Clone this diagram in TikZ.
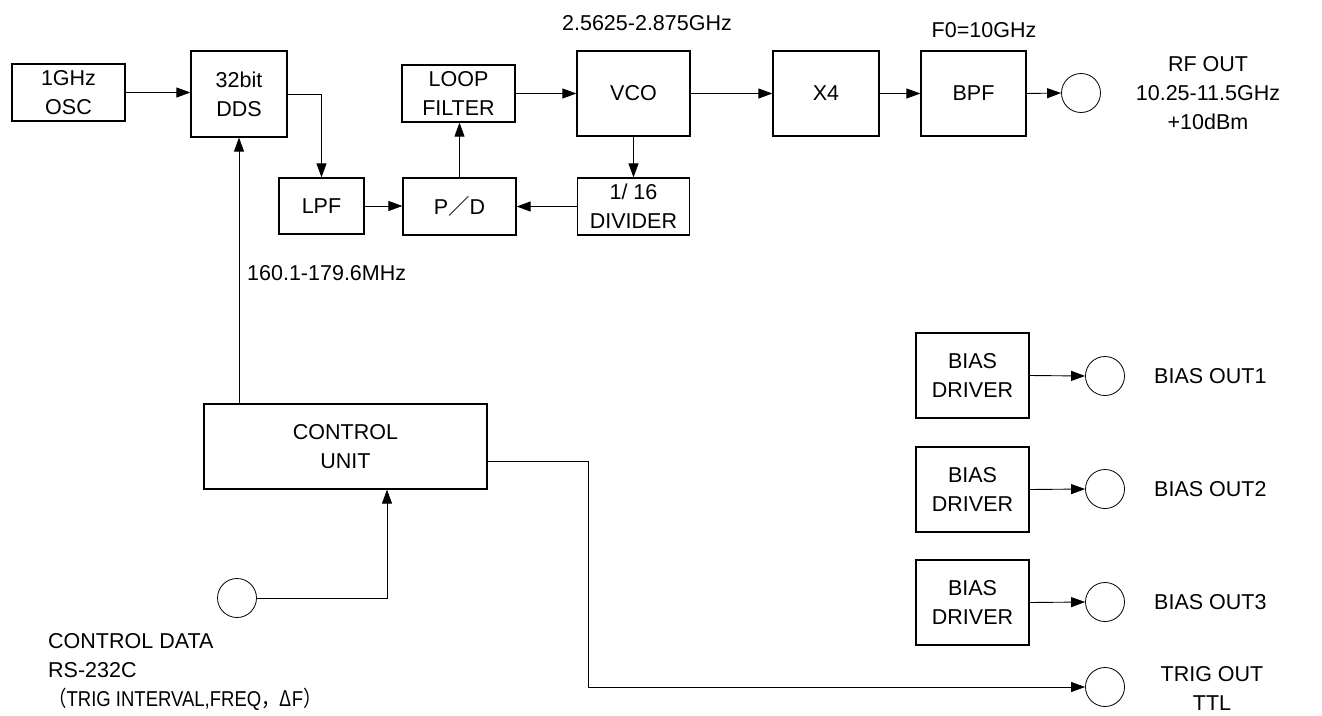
\documentclass[tikz,border=0pt]{standalone}
\usepackage{fontspec}
\setmainfont{Liberation Sans}
\newfontfamily\jp{Noto Sans CJK JP}
\usetikzlibrary{arrows.meta,calc}
\begin{document}
\begin{tikzpicture}[x=1pt,y=-1pt,
  font=\fontsize{21.5}{29}\selectfont,
  blk/.style={draw, line width=1.2pt, align=center, inner sep=0pt},
  port/.style={draw, circle, minimum size=39pt, inner sep=0pt, line width=0.8pt},
  arr/.style={-{Triangle[length=14pt,width=10pt]}, line width=0.9pt},
  lbl/.style={align=center, inner sep=0pt},
  lbll/.style={align=left, inner sep=0pt, anchor=west}]
\useasboundingbox (0,0) rectangle (1322,715);

% top chain
\node[blk,minimum width=113pt,minimum height=57pt] (osc) at (68.5,92.5) {1GHz\\OSC};
\node[blk,minimum width=96pt,minimum height=86pt] (dds) at (239,94) {32bit\\DDS};
\node[blk,minimum width=85pt,minimum height=56pt] (lpf) at (321.5,206) {LPF};
\node[blk,minimum width=113pt,minimum height=57pt] (lf) at (458.5,93.5) {LOOP\\FILTER};
\node[blk,minimum width=113pt,minimum height=57pt] (pd) at (459.5,206.5) {P{\jp ／}D};
\node[blk,minimum width=113pt,minimum height=85pt] (vco) at (633.5,93.5) {VCO};
\node[blk,minimum width=112pt,minimum height=57pt] (div) at (633.5,206.5) {1/ 16\\DIVIDER};
\node[blk,minimum width=106pt,minimum height=85pt] (x4) at (826,93.5) {X4};
\node[blk,minimum width=105pt,minimum height=85pt] (bpf) at (973.5,93.5) {BPF};
\node[port] (rf) at (1081,93) {};

% control
\node[blk,minimum width=283pt,minimum height=85pt] (cu) at (345.5,446.5) {CONTROL\\UNIT};
\node[port] (cd) at (237,598) {};

% bias
\node[blk,minimum width=113pt,minimum height=85pt] (b1) at (972.5,375.5) {BIAS\\DRIVER};
\node[blk,minimum width=113pt,minimum height=85pt] (b2) at (972.5,489.5) {BIAS\\DRIVER};
\node[blk,minimum width=113pt,minimum height=85pt] (b3) at (972.5,602.5) {BIAS\\DRIVER};
\node[port] (o1) at (1105,376) {};
\node[port] (o2) at (1105,489) {};
\node[port] (o3) at (1105,602) {};
\node[port] (trig) at (1105,687) {};

% labels
\node[lbl] (lvco) at (647,23) {2.5625-2.875GHz};
\node[lbl] (lbpf) at (984,30) {F0=10GHz};
\node[lbl] (lrf) at (1208,93) {RF OUT\\10.25-11.5GHz\\+10dBm};
\node[lbll] (lmhz) at (247,273) {160.1-179.6MHz};
\node[lbll] (lcd) at (48,672) {CONTROL DATA\\RS-232C\\\scalebox{0.86}[1]{{\jp （}TRIG INTERVAL,FREQ{\jp ，Δ}F{\jp ）}}};
\node[lbll] (l1) at (1154,376) {BIAS OUT1};
\node[lbll] (l2) at (1154,489) {BIAS OUT2};
\node[lbll] (l3) at (1154,602) {BIAS OUT3};
\node[lbl] (ltrig) at (1212,688) {TRIG OUT\\TTL};

% connectors
\draw[arr] (osc.east) -- (osc.east -| dds.west);
\draw[arr] (dds.east) -| (lpf.north);
\draw[arr] (lpf.east) -- (lpf.east -| pd.west);
\draw[arr] (pd.north) -- (pd.north |- lf.south);
\draw[arr] (lf.east) -- (lf.east -| vco.west);
\draw[arr] (vco.south) -- (div.north);
\draw[arr] (div.west) -- (div.west -| pd.east);
\draw[arr] (vco.east) -- (x4.west);
\draw[arr] (x4.east) -- (bpf.west);
\draw[arr] (bpf.east) -- (rf.west);
\draw[arr] (cu.north -| dds.south) -- (dds.south);
\draw[arr] (cd.east) -| ([xshift=41.5pt]cu.south);
\draw[arr] ([yshift=-14.5pt]cu.east) -- ++(101,0) |- (trig.west);
\draw[arr] (b1.east) -- (o1.west);
\draw[arr] (b2.east) -- (o2.west);
\draw[arr] (b3.east) -- (o3.west);
\end{tikzpicture}
\end{document}
